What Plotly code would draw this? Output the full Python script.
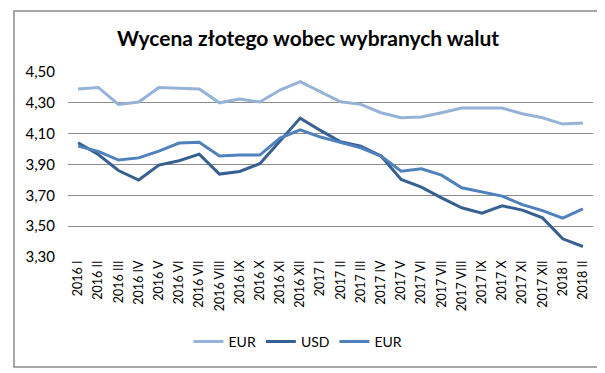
import plotly.graph_objects as go

months = ["I", "II", "III", "IV", "V", "VI", "VII", "VIII", "IX", "X", "XI", "XII"]
categories = [f"2016 {m}" for m in months] + [f"2017 {m}" for m in months] + ["2018 I", "2018 II"]

eur_light = [4.39, 4.40, 4.29, 4.305, 4.40, 4.396, 4.39, 4.30, 4.325, 4.305, 4.383, 4.437,
             4.37, 4.307, 4.29, 4.236, 4.203, 4.208, 4.236, 4.266, 4.266, 4.266, 4.229, 4.203,
             4.162, 4.169]
usd = [4.041, 3.965, 3.861, 3.799, 3.896, 3.924, 3.967, 3.838, 3.855, 3.905, 4.052, 4.201,
       4.121, 4.047, 4.019, 3.955, 3.803, 3.753, 3.684, 3.619, 3.584, 3.632, 3.604, 3.554,
       3.418, 3.368]
eur_mid = [4.019, 3.985, 3.929, 3.943, 3.987, 4.039, 4.045, 3.955, 3.961, 3.961, 4.071, 4.125,
           4.078, 4.041, 4.008, 3.955, 3.857, 3.872, 3.831, 3.749, 3.721, 3.695, 3.640, 3.601,
           3.552, 3.612]

y_ticks = [3.30, 3.50, 3.70, 3.90, 4.10, 4.30, 4.50]
y_tick_labels = ["3,30", "3,50", "3,70", "3,90", "4,10", "4,30", "4,50"]

series = [
    ("EUR", eur_light, "#95B3D7"),
    ("USD", usd, "#376092"),
    ("EUR", eur_mid, "#4F81BD"),
]

fig = go.Figure()
for name, vals, color in series:
    fig.add_trace(go.Scatter(x=categories, y=vals, mode="lines", name=name,
                             line=dict(color=color, width=3)))

W, H = 605, 373
L, R, T, B = 60, 20, 64, 124
pw, ph = W - L - R, H - T - B

def px_x(x):
    return (x - L) / pw

def px_y(y):
    return (H - B - y) / ph

fig.update_layout(
    width=W, height=H,
    margin=dict(l=L, r=R, t=T, b=B),
    paper_bgcolor="white", plot_bgcolor="white",
    font=dict(family="Lato, 'Open Sans', sans-serif", color="#000000"),
    title=dict(text="<b>Wycena złotego wobec wybranych walut</b>",
               x=300 / W, xanchor="center", y=1 - 31 / H, yanchor="middle",
               font=dict(size=21, family="Lato, sans-serif", color="#000000")),
    showlegend=True,
    legend=dict(orientation="h", x=290 / W, xref="container", xanchor="center",
                y=1 - 334 / H, yref="container", yanchor="middle",
                font=dict(size=14), itemwidth=30, tracegroupgap=0,
                bgcolor="rgba(0,0,0,0)"),
    xaxis=dict(type="category", range=[-0.5, len(categories) - 0.5],
               tickangle=-90, tickfont=dict(size=12.5), showgrid=False,
               showline=False, ticks="", zeroline=False, fixedrange=True),
    yaxis=dict(range=[3.30, 4.50], tickvals=y_ticks, ticktext=y_tick_labels,
               tickfont=dict(size=15), showgrid=True, gridcolor="#8C8C8C",
               gridwidth=1, zeroline=False, showline=False, ticks="",
               ticklabelstandoff=12),
    shapes=[dict(type="rect", xref="paper", yref="paper",
                 x0=px_x(6), x1=px_x(602), y0=px_y(359), y1=px_y(3),
                 line=dict(color="#8C8C8C", width=1.5), fillcolor="rgba(0,0,0,0)",
                 layer="below")],
)

fig.write_html("out.html")
